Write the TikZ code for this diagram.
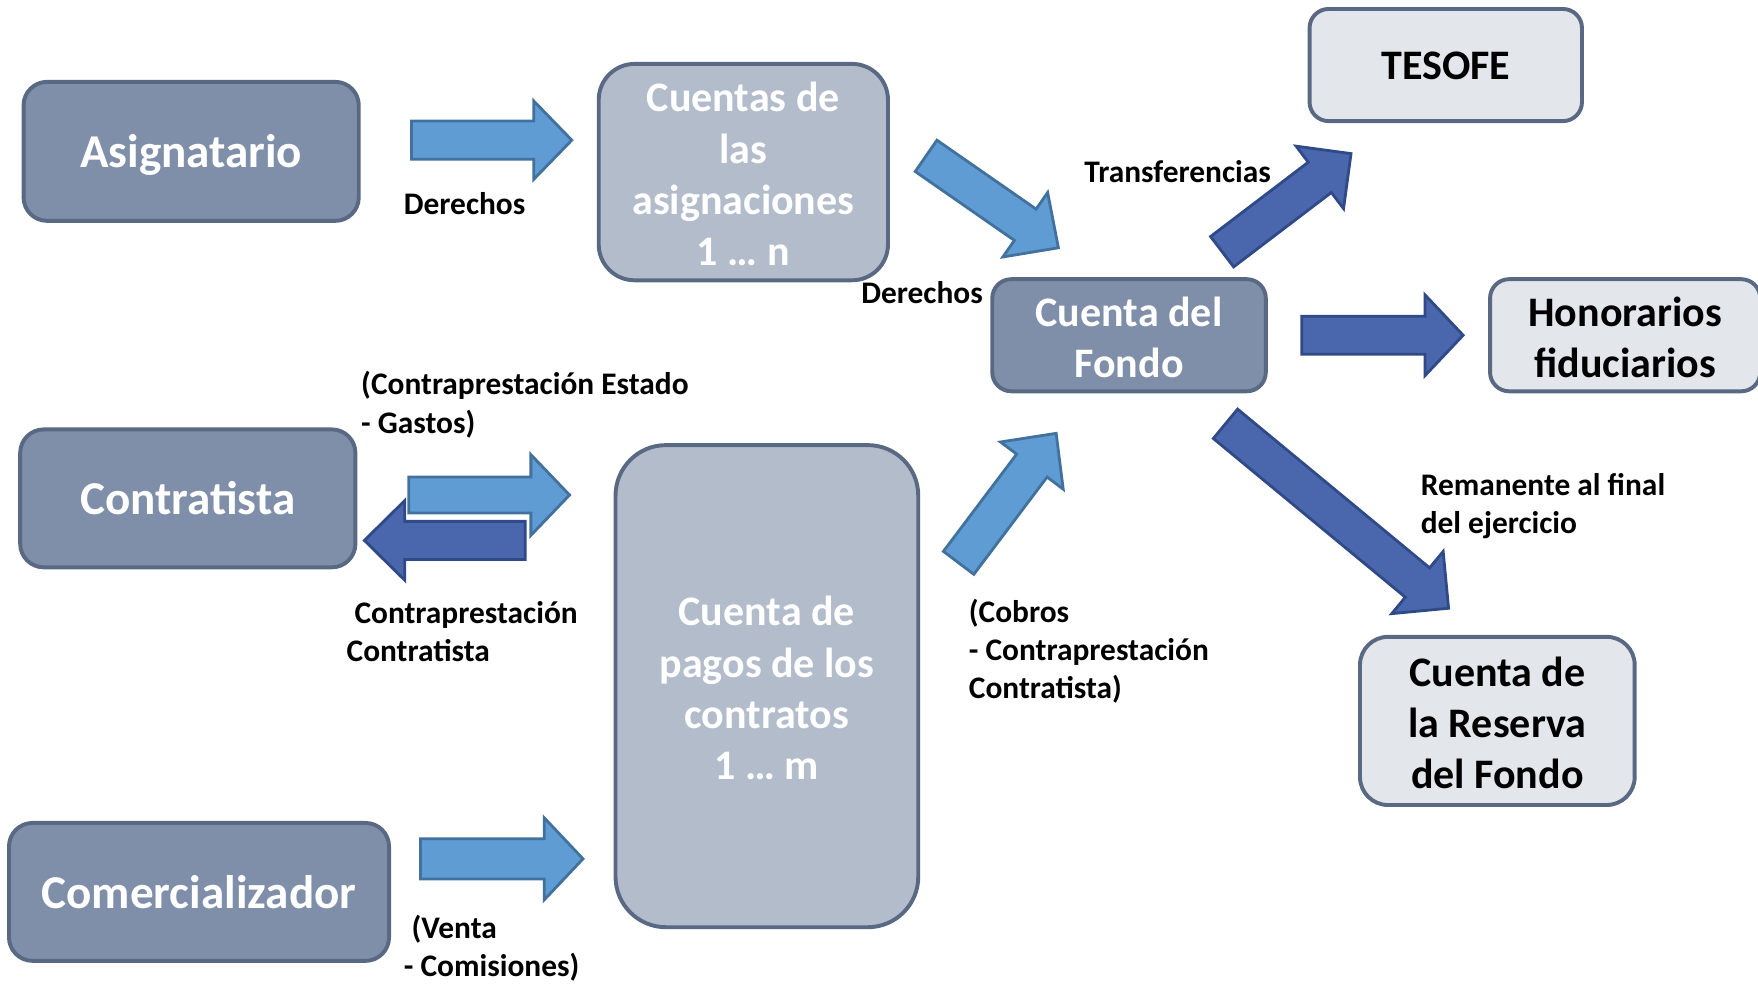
\documentclass[tikz,border=0pt]{standalone}
\usepackage{fontspec}
\setmainfont{Carlito}
\usetikzlibrary{calc}
\definecolor{darkfill}{HTML}{7F8FA9}
\definecolor{lightfill}{HTML}{B2BCCB}
\definecolor{palefill}{HTML}{E3E7EC}
\definecolor{boxborder}{HTML}{5A6983}
\definecolor{lafill}{HTML}{5E9CD3}
\definecolor{ladraw}{HTML}{41719C}
\definecolor{dafill}{HTML}{4A66AC}
\definecolor{dadraw}{HTML}{2F4A87}
\newcommand{\topstrut}{\rule{0pt}{30pt}}
% #1 style, #2 tail coordinate, #3 tip coordinate, #4 shaft half width, #5 head half width, #6 head length
\newcommand{\barrow}[6]{%
  \coordinate (#2n) at ($(#3)!#6!(#2)$);
  \draw[#1] ($(#2)!#4!90:(#3)$) -- ($(#2n)!#4!90:(#3)$) -- ($(#2n)!#5!90:(#3)$) -- (#3)
    -- ($(#2n)!#5!-90:(#3)$) -- ($(#2n)!#4!-90:(#3)$) -- ($(#2)!#4!-90:(#3)$) -- cycle;}
\begin{document}
\begin{tikzpicture}[x=1pt,y=-1pt,
  box/.style={draw=boxborder, line width=3.5pt, rectangle, inner sep=0pt, align=center},
  darkbox/.style={box, fill=darkfill, text=white},
  lightbox/.style={box, fill=lightfill, text=white},
  palebox/.style={box, fill=palefill, text=black},
  bigtxt/.style={font=\fontsize{42}{48}\selectfont\bfseries, text height=30pt, text depth=1pt},
  midtxt/.style={font=\fontsize{37.5}{45.7}\selectfont\bfseries},
  lbl/.style={font=\fontsize{28}{34}\selectfont\bfseries, align=left, inner sep=0pt, anchor=west},
  larrow/.style={fill=lafill, draw=ladraw, line width=2.5pt, line join=miter},
  darrow/.style={fill=dafill, draw=dadraw, line width=2.5pt, line join=miter}]
\useasboundingbox (0,0) rectangle (1568,879);

% boxes
\node[darkbox, bigtxt, minimum width=299, minimum height=124, rounded corners=21] (asig) at (170.5,135) {Asignatario};
\node[lightbox, midtxt, minimum width=258, minimum height=193, rounded corners=32] (cuentas) at (663,153.5) {\topstrut Cuentas de\\las\\asignaciones\\1 … n};
\node[darkbox, midtxt, minimum width=244, minimum height=100, rounded corners=17] (fondo) at (1007,299) {\topstrut Cuenta del\\Fondo};
\node[palebox, midtxt, minimum width=243, minimum height=100, rounded corners=17, text height=26pt, text depth=0pt] (tesofe) at (1289.5,58) {TESOFE};
\node[palebox, midtxt, minimum width=241, minimum height=100, rounded corners=17] (honor) at (1449.5,299) {\topstrut Honorarios\\fiduciarios};
\node[darkbox, bigtxt, minimum width=299, minimum height=123, rounded corners=21] (contr) at (167.5,444.5) {Contratista};
\node[lightbox, midtxt, minimum width=270, minimum height=430, rounded corners=45] (pagos) at (684,612) {\topstrut Cuenta de\\pagos de los\\contratos\\1 … m};
\node[darkbox, bigtxt, minimum width=339, minimum height=123, rounded corners=21] (comerc) at (177.5,795.5) {Comercializador};
\node[palebox, midtxt, minimum width=245, minimum height=150, rounded corners=25] (reserva) at (1335.5,643) {\topstrut Cuenta de\\la Reserva\\del Fondo};

% arrow end points
\coordinate (a1t) at (367,125);    \coordinate (a1p) at (510,125);
\coordinate (a2t) at (826,139);    \coordinate (a2p) at (944,221);
\coordinate (a3t) at (1090,224.5); \coordinate (a3p) at (1205,137);
\coordinate (a4t) at (1161,299);   \coordinate (a4p) at (1305,299);
\coordinate (a5t) at (1093,378);   \coordinate (a5p) at (1292,542.5);
\coordinate (a6t) at (364.5,441.5);\coordinate (a6p) at (508,441.5);
\coordinate (a7t) at (468.5,482);  \coordinate (a7p) at (325,482);
\coordinate (a8t) at (375,766);    \coordinate (a8p) at (520,766);
\coordinate (a9t) at (855,502);    \coordinate (a9p) at (942,386.5);

\barrow{larrow}{a1t}{a1p}{17pt}{35pt}{34pt}
\barrow{larrow}{a2t}{a2p}{17pt}{35pt}{36pt}
\barrow{darrow}{a3t}{a3p}{17pt}{35pt}{35pt}
\barrow{darrow}{a4t}{a4p}{17pt}{36pt}{34pt}
\barrow{darrow}{a5t}{a5p}{17pt}{36pt}{36pt}
\barrow{larrow}{a6t}{a6p}{16pt}{36pt}{34.5pt}
\barrow{darrow}{a7t}{a7p}{17pt}{35.5pt}{36pt}
\barrow{larrow}{a8t}{a8p}{18pt}{36.5pt}{34.5pt}
\barrow{larrow}{a9t}{a9p}{17pt}{35pt}{36pt}

% labels
\node[lbl] (l1) at (360,182) {Derechos};
\node[lbl] (l2) at (768,261) {Derechos};
\node[lbl] (l3) at (967,153) {Transferencias};
\node[lbl] (l4) at (322,361) {(Contraprestación Estado\\- Gastos)};
\node[lbl] (l5) at (309,563) {\hspace*{7pt}Contraprestación\\Contratista};
\node[lbl] (l6) at (864,581) {(Cobros\\- Contraprestación\\Contratista)};
\node[lbl] (l7) at (1267,451.5) {Remanente al final\\del ejercicio};
\node[lbl] (l8) at (360,846) {\hspace*{7pt}(Venta\\- Comisiones)};
\end{tikzpicture}
\end{document}
